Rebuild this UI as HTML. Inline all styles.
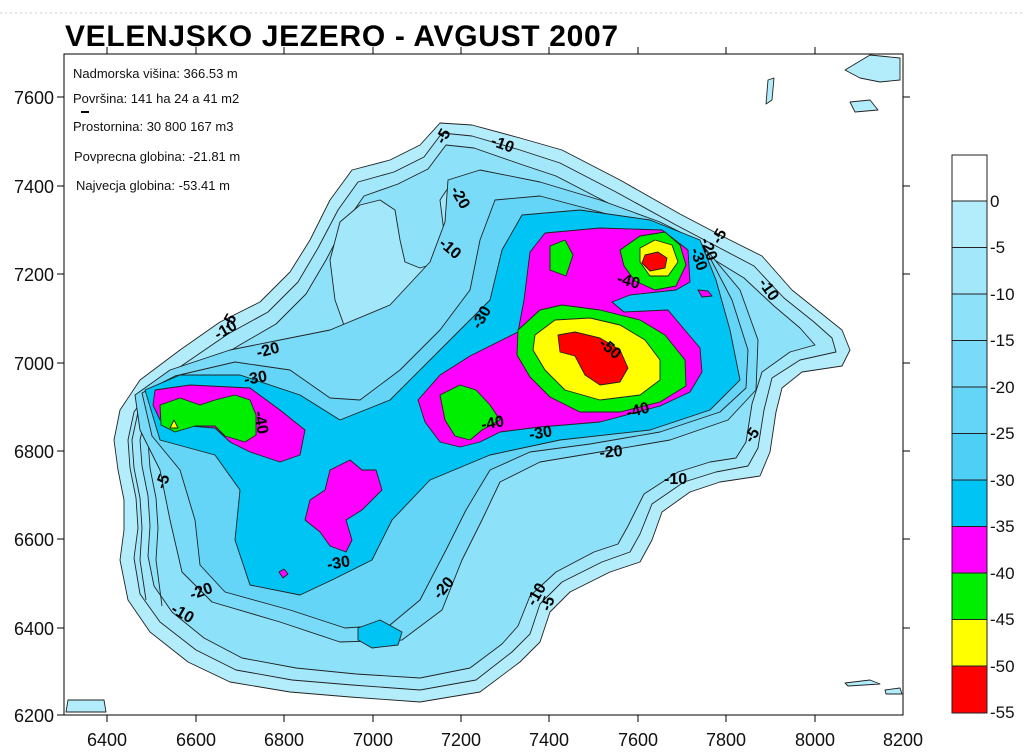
<!DOCTYPE html>
<html><head><meta charset="utf-8"><style>
body{margin:0;background:#fff;}
svg{display:block;font-family:"Liberation Sans",sans-serif;}
</style></head><body>
<svg width="1024" height="756" viewBox="0 0 1024 756" xmlns="http://www.w3.org/2000/svg">
<line x1="0" y1="13" x2="1024" y2="13" stroke="#ccc" stroke-dasharray="2,3"/>
<text x="65" y="46" font-size="30" font-weight="bold" textLength="553">VELENJSKO JEZERO - AVGUST 2007</text>

<g stroke="#222" stroke-width="0.9" stroke-linejoin="round">
<path fill="#b3edfb" d="M440,123 L472,125 L520,138 L562,150 L620,180 L680,214 L722,236 L762,256 L792,290 L822,314 L842,330 L850,350 L842,366 L802,372 L782,388 L776,412 L770,452 L760,476 L720,482 L690,492 L662,512 L652,540 L640,562 L610,572 L570,592 L550,612 L540,642 L520,662 L480,692 L420,702 L350,697 L290,692 L230,682 L188,662 L150,632 L128,600 L120,560 L124,530 L124,500 L118,470 L114,440 L120,410 L140,380 L180,350 L220,322 L260,302 L290,272 L310,240 L330,200 L352,170 L390,160 L420,145 Z"/>
<path fill="#a2e7fa" d="M442,133 L472,136 L520,150 L560,163 L616,192 L676,225 L716,246 L754,266 L784,298 L814,322 L832,338 L836,352 L800,360 L772,378 L764,410 L758,448 L748,466 L716,472 L684,482 L652,504 L640,534 L630,552 L602,562 L562,582 L540,604 L530,634 L512,652 L476,680 L420,690 L352,685 L292,680 L236,670 L196,650 L160,622 L140,594 L134,558 L138,528 L136,498 L130,468 L128,440 L134,412 L152,386 L190,360 L228,334 L268,312 L298,282 L318,248 L338,210 L358,182 L394,172 L424,157 Z"/>
<path fill="#8de1f9" d="M446,145 L474,148 L520,164 L556,176 L610,204 L668,236 L708,256 L744,278 L774,306 L800,328 L815,345 L790,352 L762,372 L752,404 L746,442 L736,458 L710,462 L678,472 L644,494 L628,526 L618,544 L594,552 L556,572 L530,596 L518,626 L502,644 L470,668 L420,678 L356,674 L296,668 L242,658 L204,638 L172,612 L154,586 L148,556 L150,526 L148,496 L142,466 L140,440 L146,414 L164,392 L200,370 L238,346 L276,324 L306,294 L326,260 L346,222 L364,196 L398,184 L428,169 Z"/>
<path fill="none" d="M146,600 L140,560 L142,528 L140,498 L134,468 L132,440 L138,412 L156,388"/>
<path fill="none" d="M162,606 L156,560 L158,528 L156,498 L150,468 L148,440 L154,414 L170,394"/>
<path fill="#a2e7fa" d="M330,260 L340,222 L360,205 L380,200 L395,210 L400,240 L405,262 L420,268 L440,262 L445,240 L440,200 L450,185 L470,210 L460,250 L445,280 L425,300 L400,320 L370,330 L345,328 L335,300 Z"/>
<path fill="#79dbf8" d="M135,395 L170,370 L230,350 L280,340 L330,330 L390,305 L430,262 L445,222 L448,180 L480,170 L540,182 L600,200 L660,222 L700,242 L740,290 L758,340 L756,390 L728,420 L670,440 L600,452 L540,462 L500,482 L482,520 L462,560 L442,610 L402,640 L340,642 L280,622 L212,602 L182,572 L170,520 L160,470 L140,430 Z"/>
<path fill="#64d5f7" d="M142,393 L175,376 L235,362 L290,370 L330,398 L360,400 L400,370 L440,330 L470,290 L480,240 L495,200 L540,196 L600,212 L660,230 L706,250 L732,300 L748,350 L746,388 L720,412 L660,432 L590,444 L530,452 L490,470 L466,510 L446,550 L420,600 L390,625 L345,628 L290,610 L225,592 L200,565 L195,520 L180,470 L152,436 Z"/>
<path fill="#00c4f4" d="M145,390 L180,375 L240,375 L300,395 L340,420 L390,400 L440,350 L490,300 L502,250 L522,215 L580,210 L650,220 L700,240 L716,280 L730,330 L740,380 L710,410 L650,430 L560,440 L490,455 L430,480 L392,520 L372,560 L332,580 L300,595 L250,585 L235,540 L240,490 L215,455 L160,440 Z"/>
<path fill="#00c4f4" d="M358,628 L380,620 L402,632 L398,645 L372,648 L358,640 Z"/>
<path fill="#ff00ff" d="M155,390 L190,385 L250,388 L280,410 L305,430 L300,455 L280,462 L250,452 L230,442 L215,428 L190,426 L160,420 L153,405 Z"/>
<path fill="#ff00ff" d="M330,470 L350,460 L362,470 L376,470 L382,490 L362,510 L346,520 L352,540 L346,552 L330,546 L320,532 L305,520 L310,500 L325,490 Z"/>
<path fill="#ff00ff" d="M418,400 L440,375 L470,356 L518,332 L524,300 L530,252 L545,233 L600,228 L662,230 L688,250 L690,282 L676,290 L630,295 L612,302 L624,312 L668,310 L700,348 L702,372 L690,392 L660,406 L600,422 L540,427 L500,432 L480,442 L460,447 L440,442 L425,422 Z"/>
<path fill="#ff00ff" d="M279,572 L284,569 L288,574 L283,578 Z"/>
<path fill="#ff00ff" d="M698,290 L708,291 L712,296 L702,297 Z"/>
<path fill="#00ee00" d="M160,405 L180,398 L200,405 L215,400 L235,395 L250,400 L256,415 L256,435 L245,442 L225,436 L215,426 L195,426 L175,432 L161,425 Z"/>
<path fill="#00ee00" d="M440,395 L460,385 L476,390 L490,405 L500,420 L482,430 L470,440 L455,436 L445,420 Z"/>
<path fill="#00ee00" d="M518,330 L540,310 L562,305 L600,310 L640,320 L665,335 L685,360 L686,386 L660,402 L620,412 L580,412 L550,397 L530,377 L517,355 Z"/>
<path fill="#00ee00" d="M550,246 L565,240 L573,255 L566,276 L550,270 Z"/>
<path fill="#00ee00" d="M620,250 L640,236 L665,232 L680,245 L686,265 L676,286 L655,290 L635,281 L624,266 Z"/>
<path fill="#ffff00" d="M535,335 L555,320 L590,318 L620,325 L645,340 L660,360 L660,380 L640,395 L600,400 L565,390 L545,370 L533,350 Z"/>
<path fill="#ffff00" d="M640,248 L655,240 L672,245 L678,262 L668,276 L650,276 L640,262 Z"/>
<path fill="#ffff00" d="M170,428 L174,420 L178,428 Z"/>
<path fill="#ff0000" d="M558,335 L575,332 L600,338 L620,350 L628,368 L620,382 L600,385 L585,375 L575,356 L560,352 Z"/>
<path fill="#ff0000" d="M645,255 L658,252 L667,258 L665,268 L650,271 L642,263 Z"/>
<path fill="#b3edfb" d="M845,70 L870,55 L900,58 L900,80 L880,82 L860,78 Z"/>
<path fill="#b3edfb" d="M850,102 L870,100 L878,110 L855,112 Z"/>
<path fill="#b3edfb" d="M768,80 L774,78 L772,100 L766,104 Z"/>
<path fill="#b3edfb" d="M66,712 L68,700 L104,700 L106,712 Z"/>
<path fill="#b3edfb" d="M845,683 L870,680 L880,684 L848,686 Z"/>
<path fill="#b3edfb" d="M885,690 L900,688 L902,694 L886,694 Z"/>
</g>

<g font-size="16" font-weight="bold" fill="#000">
<text transform="translate(444,145) rotate(-60)">-5</text>
<text transform="translate(490,145) rotate(20)">-10</text>
<text transform="translate(450,190) rotate(60)">-20</text>
<text transform="translate(438,245) rotate(40)">-10</text>
<text transform="translate(480,330) rotate(-60)">-30</text>
<text transform="translate(230,330) rotate(-60)">-5</text>
<text transform="translate(218,340) rotate(-30)">-10</text>
<text transform="translate(258,358) rotate(-15)">-20</text>
<text transform="translate(245,385) rotate(-10)">-30</text>
<text transform="translate(254,412) rotate(80)">-40</text>
<text transform="translate(165,490) rotate(-70)">-5</text>
<text transform="translate(170,612) rotate(30)">-10</text>
<text transform="translate(192,600) rotate(-20)">-20</text>
<text transform="translate(328,570) rotate(-10)">-30</text>
<text transform="translate(440,600) rotate(-50)">-20</text>
<text transform="translate(535,607) rotate(-60)">-10</text>
<text transform="translate(550,612) rotate(-70)">-5</text>
<text transform="translate(482,430) rotate(-10)">-40</text>
<text transform="translate(530,440) rotate(-10)">-30</text>
<text transform="translate(600,458) rotate(-5)">-20</text>
<text transform="translate(664,484)">-10</text>
<text transform="translate(752,444) rotate(-55)">-5</text>
<text transform="translate(628,418) rotate(-15)">-40</text>
<text transform="translate(598,345) rotate(40)">-50</text>
<text transform="translate(616,283) rotate(15)">-40</text>
<text transform="translate(690,250) rotate(70)">-30</text>
<text transform="translate(700,240) rotate(70)">-20</text>
<text transform="translate(720,245) rotate(-60)">-5</text>
<text transform="translate(758,283) rotate(55)">-10</text>
</g>

<g font-size="13" fill="#111">
<text x="73" y="78">Nadmorska višina: 366.53 m</text>
<text x="73" y="103">Površina: 141 ha 24 a 41 m2</text>
<rect x="81" y="111" width="8" height="2" fill="#000"/>
<text x="73" y="131">Prostornina: 30 800 167 m3</text>
<text x="74" y="161">Povprecna globina: -21.81 m</text>
<text x="76" y="190">Najvecja globina: -53.41 m</text>
</g>

<rect x="64" y="54" width="839" height="661" fill="none" stroke="#000" stroke-width="1"/>
<g stroke="#000" stroke-width="1">
<line x1="57" y1="97" x2="64" y2="97"/><line x1="57" y1="186" x2="64" y2="186"/><line x1="57" y1="274" x2="64" y2="274"/><line x1="57" y1="363" x2="64" y2="363"/><line x1="57" y1="451" x2="64" y2="451"/><line x1="57" y1="539" x2="64" y2="539"/><line x1="57" y1="628" x2="64" y2="628"/><line x1="57" y1="715" x2="64" y2="715"/>
<line x1="903" y1="97" x2="910" y2="97"/><line x1="903" y1="186" x2="910" y2="186"/><line x1="903" y1="274" x2="910" y2="274"/><line x1="903" y1="363" x2="910" y2="363"/><line x1="903" y1="451" x2="910" y2="451"/><line x1="903" y1="539" x2="910" y2="539"/><line x1="903" y1="628" x2="910" y2="628"/>
<line x1="107" y1="47" x2="107" y2="54"/><line x1="196" y1="47" x2="196" y2="54"/><line x1="284" y1="47" x2="284" y2="54"/><line x1="373" y1="47" x2="373" y2="54"/><line x1="461" y1="47" x2="461" y2="54"/><line x1="549" y1="47" x2="549" y2="54"/><line x1="638" y1="47" x2="638" y2="54"/><line x1="726" y1="47" x2="726" y2="54"/><line x1="815" y1="47" x2="815" y2="54"/>
<line x1="107" y1="715" x2="107" y2="722"/><line x1="196" y1="715" x2="196" y2="722"/><line x1="284" y1="715" x2="284" y2="722"/><line x1="373" y1="715" x2="373" y2="722"/><line x1="461" y1="715" x2="461" y2="722"/><line x1="549" y1="715" x2="549" y2="722"/><line x1="638" y1="715" x2="638" y2="722"/><line x1="726" y1="715" x2="726" y2="722"/><line x1="815" y1="715" x2="815" y2="722"/>
</g>
<g font-size="18" fill="#111" text-anchor="end">
<text x="54" y="104">7600</text><text x="54" y="193">7400</text><text x="54" y="281">7200</text><text x="54" y="370">7000</text><text x="54" y="458">6800</text><text x="54" y="546">6600</text><text x="54" y="635">6400</text><text x="54" y="722">6200</text>
</g>
<g font-size="18" fill="#111" text-anchor="middle">
<text x="107" y="746">6400</text><text x="196" y="746">6600</text><text x="284" y="746">6800</text><text x="373" y="746">7000</text><text x="461" y="746">7200</text><text x="549" y="746">7400</text><text x="638" y="746">7600</text><text x="726" y="746">7800</text><text x="815" y="746">8000</text><text x="903" y="746">8200</text>
</g>

<g stroke="#222" stroke-width="1">
<rect x="952" y="155" width="35" height="46" fill="#ffffff"/>
<rect x="952" y="201" width="35" height="46.5" fill="#b3edfb"/>
<rect x="952" y="247.5" width="35" height="46.5" fill="#a2e7fa"/>
<rect x="952" y="294" width="35" height="46.5" fill="#8de1f9"/>
<rect x="952" y="340.5" width="35" height="46.5" fill="#79dbf8"/>
<rect x="952" y="387" width="35" height="46.5" fill="#64d5f7"/>
<rect x="952" y="433.5" width="35" height="46.5" fill="#4dcff6"/>
<rect x="952" y="480" width="35" height="46.5" fill="#00c4f4"/>
<rect x="952" y="526.5" width="35" height="46.5" fill="#ff00ff"/>
<rect x="952" y="573" width="35" height="46.5" fill="#00ee00"/>
<rect x="952" y="619.5" width="35" height="46.5" fill="#ffff00"/>
<rect x="952" y="666" width="35" height="47" fill="#ff0000"/>
</g>
<g font-size="17" fill="#111">
<text x="990" y="207">0</text><text x="990" y="253">-5</text><text x="990" y="300">-10</text><text x="990" y="346">-15</text><text x="990" y="393">-20</text><text x="990" y="439">-25</text><text x="990" y="486">-30</text><text x="990" y="532">-35</text><text x="990" y="579">-40</text><text x="990" y="625">-45</text><text x="990" y="672">-50</text><text x="990" y="718">-55</text>
</g>
</svg>
</body></html>
